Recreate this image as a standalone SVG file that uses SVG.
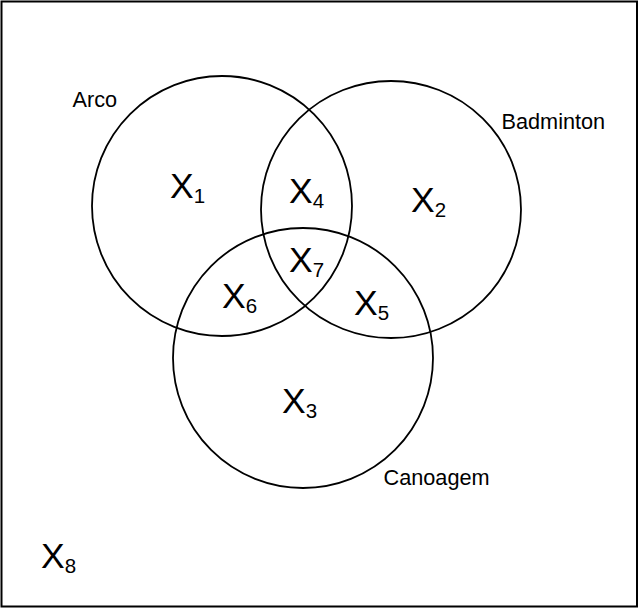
<svg xmlns="http://www.w3.org/2000/svg" width="640" height="609" viewBox="0 0 640 609">
<style>
.c{fill:none;stroke:#000;stroke-width:1.8}
.x{font-family:"Liberation Sans",Arial,sans-serif;font-size:35.5px;fill:#000}
.s{font-size:20.5px}
.l{font-family:"Liberation Sans",Arial,sans-serif;font-size:21.7px;fill:#000}
</style>
<rect x="0" y="0" width="640" height="609" fill="#fff"/>
<rect x="1.5" y="1.5" width="635.5" height="605" fill="none" stroke="#000" stroke-width="2"/>
<g id="arco">
<circle class="c" cx="222" cy="206" r="130"/>
<text class="l" x="72.5" y="107">Arco</text>
</g>
<g id="badminton">
<ellipse class="c" cx="391" cy="209.5" rx="130" ry="128.5"/>
<text class="l" x="501.5" y="129">Badminton</text>
</g>
<g id="canoagem">
<circle class="c" cx="303" cy="358" r="130"/>
<text class="l" x="383.5" y="485">Canoagem</text>
</g>
<g id="x1"><text class="x" x="170" y="198">X<tspan class="s" dy="5">1</tspan></text></g>
<g id="x2"><text class="x" x="411" y="212">X<tspan class="s" dy="5">2</tspan></text></g>
<g id="x3"><text class="x" x="282" y="413">X<tspan class="s" dy="5">3</tspan></text></g>
<g id="x4"><text class="x" x="289" y="203">X<tspan class="s" dy="5">4</tspan></text></g>
<g id="x5"><text class="x" x="354" y="315">X<tspan class="s" dy="5">5</tspan></text></g>
<g id="x6"><text class="x" x="222" y="308">X<tspan class="s" dy="5">6</tspan></text></g>
<g id="x7"><text class="x" x="289" y="272">X<tspan class="s" dy="5">7</tspan></text></g>
<g id="x8"><text class="x" x="41" y="568">X<tspan class="s" dy="5">8</tspan></text></g>
<g id="connectors"></g>
</svg>
